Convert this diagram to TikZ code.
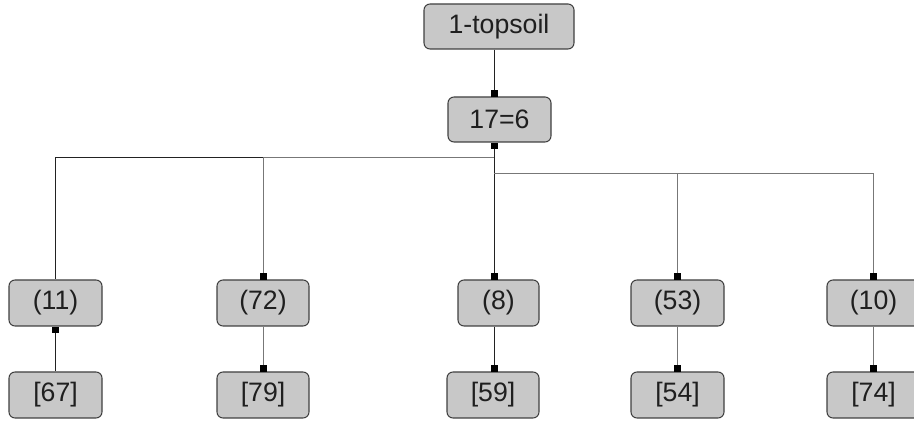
\documentclass[tikz,border=0pt]{standalone}
\usepackage{fontspec}
\setmainfont{Liberation Sans}
\usetikzlibrary{arrows.meta}
\definecolor{boxfill}{HTML}{C8C8C8}
\definecolor{boxline}{HTML}{404040}
\definecolor{darkline}{HTML}{222222}
\definecolor{grayline}{HTML}{777777}
\tikzset{
  box/.style={draw=boxline, line width=0.8pt, fill=boxfill, rounded corners=4.5pt,
    inner sep=0pt, font=\fontsize{20}{24}\selectfont, text=black!88, minimum height=34.5pt},
  sq/.tip={Square[length=4.5pt,width=5.25pt,color=black,fill=black]},
  conn/.style={line width=0.65pt, draw=darkline},
  gconn/.style={line width=0.65pt, draw=grayline},
}
\begin{document}
\begin{tikzpicture}[x=0.75pt,y=-0.75pt]
\useasboundingbox (0,0) rectangle (914,423);
% nodes
\node[box, minimum width=112.5pt, minimum height=33.75pt] (top) at (499,26.5) {1-topsoil};
\node[box, minimum width=77.25pt, minimum height=33.75pt] (n17) at (499.5,119.5) {17=6};
\node[box, minimum width=69.75pt] (n11) at (55.5,303) {(11)};
\node[box, minimum width=69pt] (n72) at (263,303) {(72)};
\node[box, minimum width=60.75pt] (n8) at (498.5,303) {(8)};
\node[box, minimum width=69.75pt] (n53) at (677.5,303) {(53)};
\node[box, minimum width=69.75pt] (n10) at (873.5,303) {(10)};
\node[box, minimum width=69.75pt] (n67) at (55.5,395) {[67]};
\node[box, minimum width=69pt] (n79) at (263,395) {[79]};
\node[box, minimum width=69pt] (n59) at (493,395) {[59]};
\node[box, minimum width=69.75pt] (n54) at (677.5,395) {[54]};
\node[box, minimum width=69.75pt] (n74) at (873.5,395) {[74]};
% bus points
\coordinate (busL) at (494,157);
\coordinate (busR) at (494,173);
% connectors
\draw[conn,-sq] ([xshift=-3.75pt]top.south) -- ([xshift=-4.125pt]n17.north);
\draw[conn,sq-sq] ([xshift=-4.125pt]n17.south) -- ([xshift=-3.375pt]n8.north);
\draw[conn] (busL) -| (n11.north);
\draw[gconn,-sq] (busL) -| (n72.north);
\draw[conn] (busL) -- (busR) -- ([xshift=140pt]busR);
\draw[gconn,-sq] ([xshift=140pt]busR) -| (n53.north);
\draw[gconn,-sq] (busR) -| ([xshift=-0.375pt]n10.north);
\draw[conn,-sq] (n67.north) -- (n11.south);
\draw[gconn,-sq] (n72.south) -- (n79.north);
\draw[conn,-sq] ([xshift=-3.375pt]n8.south) -- ([xshift=0.75pt]n59.north);
\draw[gconn,-sq] (n53.south) -- (n54.north);
\draw[gconn,-sq] ([xshift=-0.375pt]n10.south) -- ([xshift=-0.375pt]n74.north);
\end{tikzpicture}
\end{document}
